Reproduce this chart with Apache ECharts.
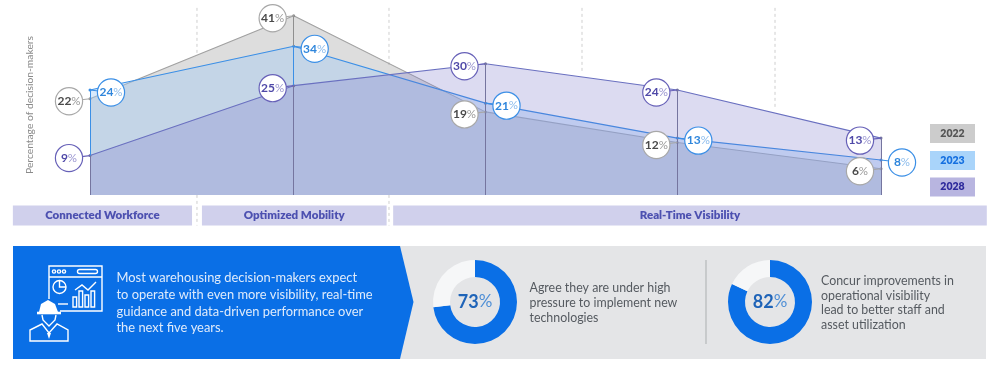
<!DOCTYPE html>
<html><head><meta charset="utf-8">
<style>html,body{margin:0;padding:0;background:#fff}#c{width:1004px;height:371px}</style>
<script src="https://cdn.jsdelivr.net/npm/echarts@6/dist/echarts.min.js"></script>
</head><body><div id="c"></div>
<script>
// ---- data ----
const stops = [0, 1.03, 2, 2.97, 4];           // horizontal position of the five survey points
const values2022 = [22, 41, 19, 12, 6];
const values2023 = [24, 34, 21, 13, 8];
const values2028 = [9, 25, 30, 24, 13];
const years = ['2022', '2023', '2028'];
const bandNames = ['Connected Workforce', 'Optimized Mobility', 'Real-Time Visibility'];
const bandStart = [-0.39, 0.566, 1.533];
const bandEnd = [0.516, 1.50, 4.535];
const dividerAt = [0.541, 1.512, 2.488, 3.464];
const dividerFloor = [32, 29.5, 28, 19.9];
const donut1 = [73, 27];
const donut2 = [82, 18];
const yAxisTitle = 'Percentage of decision-makers';
const blurb = 'Most warehousing decision-makers expect\nto operate with even more visibility, real-time\nguidance and data-driven performance over\nthe next five years.';
const note1 = 'Agree they are under high\npressure to implement new\ntechnologies';
const note2 = 'Concur improvements in\noperational visibility\nlead to better staff and\nasset utilization';

// ---- styles ----
const FONT = 'Lato, "Open Sans", sans-serif';
const gray = '#a0a0a0', blue = '#3b8fe6', purple = '#6761b8';
const GRID = {left: 90, width: 791, top: 7, height: 218.5};

const pairs = v => v.map((y, i) => [stops[i], y]);

function areaSeries(name, vals, lineColor, fill, dropColor, z) {
  return {
    name, type: 'line', data: pairs(vals), z, silent: true,
    symbol: 'circle', symbolSize: 3, showSymbol: true,
    lineStyle: {color: lineColor, width: 1.1},
    itemStyle: {color: dropColor},
    areaStyle: {color: fill, opacity: 1, origin: 'auto'},
    markLine: {
      silent: true, symbol: 'none', label: {show: false}, animation: false,
      lineStyle: {color: dropColor, width: 1, type: 'solid', opacity: 1},
      data: pairs(vals).map(p => [{coord: p}, {coord: [p[0], 0]}])
    }
  };
}

function bubbleSeries(vals, border, numColor, pctColor, side, z) {
  return {
    type: 'custom', coordinateSystem: 'cartesian2d', clip: false, silent: true, z,
    data: pairs(vals),
    encode: {x: 0, y: 1},
    renderItem(params, api) {
      const p = api.coord([api.value(0), api.value(1)]);
      const cx = p[0] + side * 21, cy = p[1] + 2.5;
      return {type: 'group', children: [
        {type: 'line', shape: {x1: p[0], y1: p[1], x2: cx, y2: cy}, style: {stroke: border, lineWidth: 1.1}},
        {type: 'circle', shape: {cx, cy, r: 13.6}, style: {fill: '#fff', stroke: border, lineWidth: 1.2}},
        {type: 'text', style: {
          x: cx, y: cy, align: 'center', verticalAlign: 'middle',
          text: '{n|' + api.value(1) + '}{p|%}',
          rich: {
            n: {fontFamily: FONT, fontSize: 12, fontWeight: 700, fill: numColor, color: numColor},
            p: {fontFamily: FONT, fontSize: 11.5, fontWeight: 400, fill: pctColor, color: pctColor}
          }
        }}
      ]};
    }
  };
}

const bandSeries = {
  type: 'custom', coordinateSystem: 'cartesian2d', clip: false, silent: true, z: 1,
  data: bandNames.map((n, i) => [bandStart[i], bandEnd[i], n]),
  encode: {x: [0, 1]},
  renderItem(params, api) {
    const a = api.coord([api.value(0), -2.45]), b = api.coord([api.value(1), -7]);
    return {type: 'group', children: [
      {type: 'rect', shape: {x: a[0], y: a[1], width: b[0] - a[0], height: b[1] - a[1]}, style: {fill: '#d0d0ec'}},
      {type: 'text', style: {x: (a[0] + b[0]) / 2, y: (a[1] + b[1]) / 2, align: 'center', verticalAlign: 'middle',
        text: bandNames[params.dataIndex], fontFamily: FONT, fontSize: 11.5, fontWeight: 800, fill: '#4c50b0'}}
    ]};
  }
};

const dividerSeries = {
  type: 'custom', coordinateSystem: 'cartesian2d', clip: false, silent: true, z: 0,
  data: dividerAt.map((x, i) => [x, dividerFloor[i]]),
  encode: {x: 0},
  renderItem(params, api) {
    const x = api.value(0);
    const top = api.coord([x, 42.8]), bot = api.coord([x, api.value(1)]);
    const kids = [{type: 'line', shape: {x1: top[0], y1: top[1], x2: bot[0], y2: bot[1]},
      style: {stroke: '#cfcfcf', lineWidth: 1, lineDash: [3, 3]}}];
    if (params.dataIndex < 2) {
      const b0 = api.coord([x, 0]), b1 = api.coord([x, -7]);
      kids.push({type: 'line', shape: {x1: b0[0], y1: b0[1], x2: b1[0], y2: b1[1]},
        style: {stroke: '#cfcfcf', lineWidth: 1, lineDash: [3, 3]}});
    }
    return {type: 'group', children: kids};
  }
};

function donut(vals, cx) {
  return {
    type: 'pie', center: [cx, 302], radius: [25, 42], startAngle: 90, clockwise: true, silent: true,
    z: 5, labelLine: {show: false},
    data: [
      {value: vals[0], itemStyle: {color: '#0a6fe6'},
       label: {show: true, position: 'center', formatter: '{n|' + vals[0] + '}{p|%}',
         rich: {n: {fontFamily: FONT, fontSize: 18, fontWeight: 700, color: '#1f64b8'},
                p: {fontFamily: FONT, fontSize: 17, fontWeight: 400, color: '#4f8fd6'}}}},
      {value: vals[1], itemStyle: {color: '#f6f7f8'}, label: {show: false}}
    ]
  };
}

// ---- line icon ----
const W = {stroke: '#fff', lineWidth: 1.4, fill: null};
const iconBars = [[73, 8], [79, 14], [85, 10], [91, 14]];
const icon = [
  {type: 'polyline', shape: {points: [[49, 299], [49, 266], [102, 266], [102, 311], [60, 311]]}, style: W},
  {type: 'line', shape: {x1: 49, y1: 277, x2: 102, y2: 277}, style: W},
  {type: 'circle', shape: {cx: 54, cy: 271.5, r: 1.6}, style: W},
  {type: 'circle', shape: {cx: 59, cy: 271.5, r: 1.6}, style: W},
  {type: 'circle', shape: {cx: 64, cy: 271.5, r: 1.6}, style: W},
  {type: 'rect', shape: {x: 77.5, y: 269.5, width: 20, height: 4, r: 2}, style: W},
  {type: 'circle', shape: {cx: 59.5, cy: 287, r: 6.5}, style: W},
  {type: 'polyline', shape: {points: [[59.5, 280.5], [59.5, 287], [66, 287]]}, style: W},
  {type: 'polyline', shape: {points: [[75, 290], [82, 285], [88, 290], [96, 282]]}, style: W},
  {type: 'line', shape: {x1: 58, y1: 304, x2: 68, y2: 304}, style: W},
  ...iconBars.map(b => ({type: 'rect', shape: {x: b[0], y: 307 - b[1] - 2, width: 3.6, height: b[1] + 2}, style: W})),
  {type: 'polygon', shape: {points: [[39, 312], [41, 304], [48, 300], [55, 304], [58, 312]]}, style: {fill: '#fff'}},
  {type: 'line', shape: {x1: 37, y1: 313, x2: 61, y2: 313}, style: {stroke: '#fff', lineWidth: 2.6}},
  {type: 'polyline', shape: {points: [[42, 315], [43, 320], [49, 326], [55, 320], [56, 315]]}, style: W},
  {type: 'polygon', shape: {points: [[30, 341], [30, 330], [42, 324], [49, 333], [57, 324], [68, 330], [68, 341]]}, style: W},
  {type: 'polygon', shape: {points: [[47, 333], [51, 333], [49, 339]]}, style: {fill: '#fff'}}
];

const txt = (x, y, text, size, fill, lh, extra) => ({type: 'text', x, y,
  style: Object.assign({text, fontFamily: FONT, fontSize: size, fill, lineHeight: lh, align: 'left', verticalAlign: 'middle'}, extra || {})});

const legendFill = ['#cccccc', '#a9d4fa', '#b8b5e0'];
const legendText = ['#555555', '#1570e0', '#2e2a9c'];
const legendTop = [124, 151, 177.5];
const legendEls = years.flatMap((y, i) => [
  {type: 'rect', shape: {x: 930, y: legendTop[i], width: 45, height: 19}, style: {fill: legendFill[i]}},
  {type: 'text', x: 952.5, y: legendTop[i] + 9.5, style: {text: y, fontFamily: FONT, fontSize: 10.5, fontWeight: 800, fill: legendText[i], align: 'center', verticalAlign: 'middle'}}
]);

const chart = echarts.init(document.getElementById('c'), null, {renderer: 'canvas'});
chart.setOption({
  animation: false,
  backgroundColor: '#fff',
  tooltip: {show: false},
  grid: GRID,
  xAxis: {type: 'value', min: 0, max: 4, show: false},
  yAxis: {type: 'value', min: -7, max: 43, show: false},
  graphic: {elements: [
    {type: 'rect', z: -5, shape: {x: 13, y: 246, width: 973, height: 113}, style: {fill: '#e4e5e7'}},
    {type: 'polygon', z: -4, shape: {points: [[13, 246], [400, 246], [413.5, 302], [400, 359], [13, 359]]}, style: {fill: '#0a6fe6'}},
    {type: 'line', z: -4, shape: {x1: 706, y1: 260, x2: 706, y2: 344}, style: {stroke: '#b5b7ba', lineWidth: 1.2}},
    {type: 'group', z: -3, children: icon},
    {type: 'text', z: -3, x: 30, y: 105, rotation: Math.PI / 2,
      style: {text: yAxisTitle, fontFamily: FONT, fontSize: 10.3, fill: '#8a8a8a', align: 'center', verticalAlign: 'middle'}},
    Object.assign(txt(116.5, 303, blurb, 12.9, '#dfebfb', 16.8), {z: -3}),
    Object.assign(txt(529.5, 303, note1, 12.4, '#555a60', 15), {z: -3}),
    Object.assign(txt(821, 303, note2, 12.4, '#555a60', 14.7), {z: -3}),
    ...legendEls
  ]},
  series: [
    dividerSeries,
    areaSeries('2022', values2022, gray, 'rgba(120,120,120,0.25)', '#8f8f8f', 2),
    areaSeries('2023', values2023, blue, 'rgba(160,202,247,0.40)', '#3b8fe6', 3),
    areaSeries('2028', values2028, '#6a70c0', 'rgba(115,112,200,0.25)', '#75759f', 4),
    bandSeries,
    bubbleSeries(values2022, '#a8a8a8', '#4a4a4a', '#9a9a9a', -1, 6),
    bubbleSeries(values2023, blue, '#2f86dc', '#8cbcec', 1, 7),
    bubbleSeries(values2028, purple, '#4f49a8', '#9a96d0', -1, 8),
    donut(donut1, 475),
    donut(donut2, 770)
  ]
});
</script></body></html>
